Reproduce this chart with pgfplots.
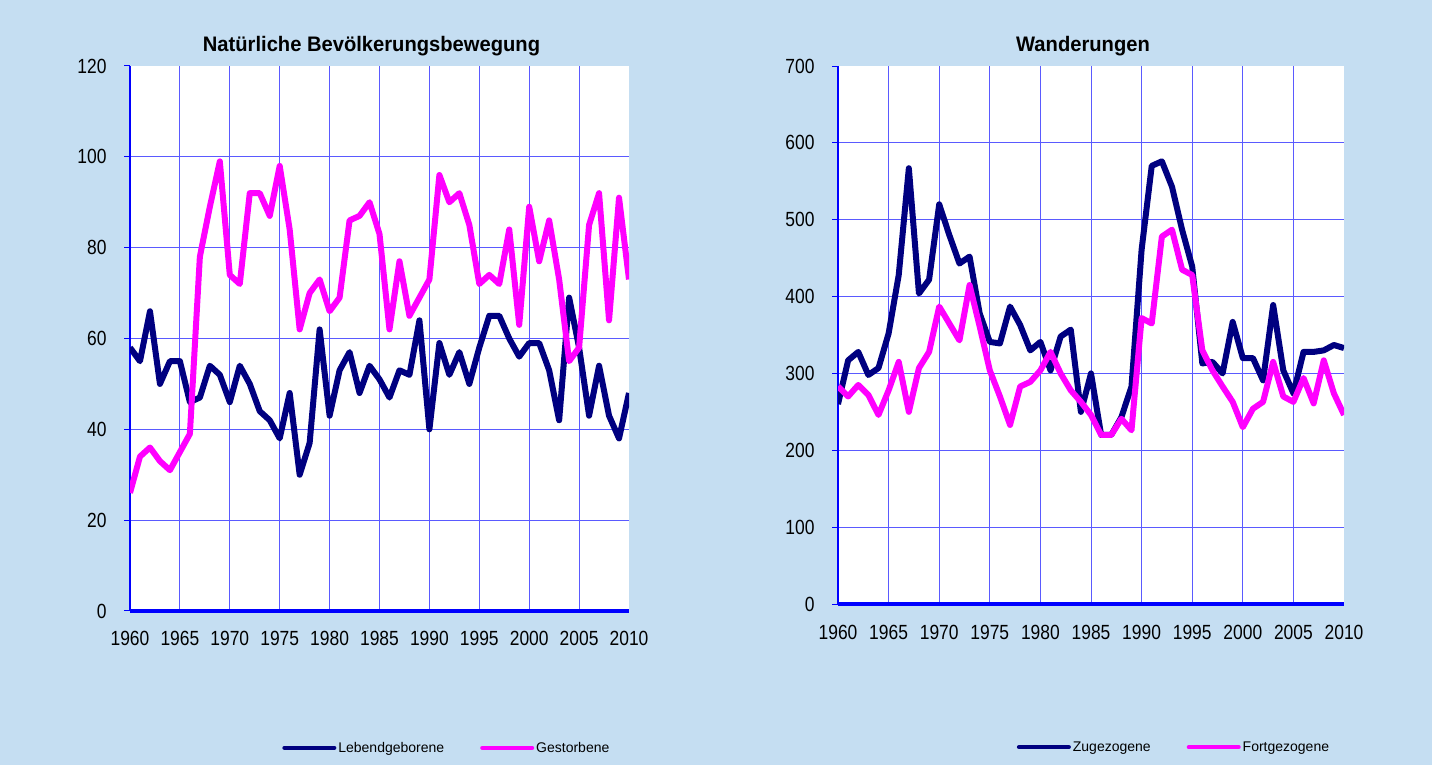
\documentclass[border=0pt]{standalone}
\usepackage{fontspec}
\setmainfont{Liberation Sans}
\newfontfamily\narrowfont[FakeStretch=0.85]{Liberation Sans}
\newfontfamily\titlefont[FakeStretch=0.96]{Liberation Sans}
\usepackage{pgfplots}
\pgfplotsset{compat=1.18}
\usepackage{pgfplotstable}

\definecolor{bgblue}{RGB}{197,222,242}
\definecolor{gridblue}{RGB}{90,90,255}
\definecolor{axisblue}{RGB}{0,0,255}
\definecolor{navy}{RGB}{0,0,128}
\definecolor{pink}{RGB}{255,0,255}

% Natuerliche Bevoelkerungsbewegung
\pgfplotstableread{
jahr geb gest
1960 58 26
1961 55 34
1962 66 36
1963 50 33
1964 55 31
1965 55 35
1966 46 39
1967 47 78
1968 54 89
1969 52 99
1970 46 74
1971 54 72
1972 50 92
1973 44 92
1974 42 87
1975 38 98
1976 48 84
1977 30 62
1978 37 70
1979 62 73
1980 43 66
1981 53 69
1982 57 86
1983 48 87
1984 54 90
1985 51 83
1986 47 62
1987 53 77
1988 52 65
1989 64 69
1990 40 73
1991 59 96
1992 52 90
1993 57 92
1994 50 85
1995 58 72
1996 65 74
1997 65 72
1998 60 84
1999 56 63
2000 59 89
2001 59 77
2002 53 86
2003 42 73
2004 69 55
2005 58 58
2006 43 85
2007 54 92
2008 43 64
2009 38 91
2010 48 73
}\natdata

% Wanderungen
\pgfplotstableread{
jahr zu fort
1960 260 283
1961 317 270
1962 328 285
1963 298 272
1964 307 246
1965 352 278
1966 428 315
1967 567 250
1968 404 307
1969 422 328
1970 520 387
1971 480 365
1972 443 343
1973 452 415
1974 378 361
1975 341 304
1976 339 270
1977 387 233
1978 363 283
1979 330 289
1980 341 304
1981 304 328
1982 348 300
1983 357 278
1984 250 263
1985 300 246
1986 220 220
1987 220 220
1988 243 241
1989 283 226
1990 461 372
1991 570 365
1992 576 478
1993 543 487
1994 487 435
1995 439 428
1996 313 330
1997 315 304
1998 300 283
1999 367 263
2000 320 230
2001 320 254
2002 291 263
2003 389 315
2004 304 270
2005 274 263
2006 328 294
2007 328 261
2008 330 317
2009 337 274
2010 333 246
}\wanddata

\pgfplotsset{
  panel/.style={
    scale only axis,
    anchor=south west,
    axis background/.style={fill=white},
    axis x line*=bottom,
    axis y line*=left,
    x axis line style={axisblue, line width=4bp, -},
    y axis line style={axisblue, line width=1.2bp, -},
    xmin=1960, xmax=2010,
    xtick={1960,1965,...,2005},
    extra x ticks={2010},
    extra tick style={grid=none},
    xmajorgrids, ymajorgrids,
    major grid style={gridblue, line width=1bp},
    tick align=outside,
    major tick length=6bp,
    xtick style={draw=none},
    ytick style={axisblue, line width=1bp},
    ticklabel style={font=\narrowfont\fontsize{20.5bp}{24bp}\selectfont},
    /pgf/number format/1000 sep={},
    /pgf/number format/assume math mode=true,
    x tick label style={anchor=base, yshift=-29bp},
    y tick label style={anchor=east, xshift=-14bp},
    title style={font=\titlefont\bfseries\fontsize{21bp}{25bp}\selectfont,
      at={(0.5,1)}, anchor=base, yshift=9bp, xshift=-8bp},
    legend columns=2,
    legend style={draw=none, fill=none, anchor=center,
      font=\fontsize{14bp}{16bp}\selectfont,
      /tikz/every even column/.append style={column sep=34bp}},
    legend image code/.code={\draw[#1, line width=4bp, line cap=round] (0bp,0bp) -- (50bp,0bp);},
    every axis plot/.append style={line width=6bp, line join=round, no marks},
  },
}

\begin{document}
\begin{tikzpicture}
\fill[bgblue] (0,0) rectangle (1432bp,765bp);
\useasboundingbox (0,0) rectangle (1432bp,765bp);

\begin{axis}[
  panel,
  at={(130bp,154bp)},
  width=499bp, height=545bp,
  ymin=0, ymax=120,
  ytick={0,20,...,100},
  extra y ticks={120},
  title={Natürliche Bevölkerungsbewegung},
  legend style={at={(axis description cs:0.635,-0.251)}},
]
\addplot[navy] table[x=jahr, y=geb] {\natdata};
\addplot[pink] table[x=jahr, y=gest] {\natdata};
\legend{Lebendgeborene, Gestorbene}
\end{axis}

\begin{axis}[
  panel,
  at={(838bp,161bp)},
  width=506bp, height=538bp,
  ymin=0, ymax=700,
  ytick={0,100,...,600},
  extra y ticks={700},
  title={Wanderungen},
  legend style={at={(axis description cs:0.664,-0.266)}},
]
\addplot[navy] table[x=jahr, y=zu] {\wanddata};
\addplot[pink] table[x=jahr, y=fort] {\wanddata};
\legend{Zugezogene, Fortgezogene}
\end{axis}
\end{tikzpicture}
\end{document}
